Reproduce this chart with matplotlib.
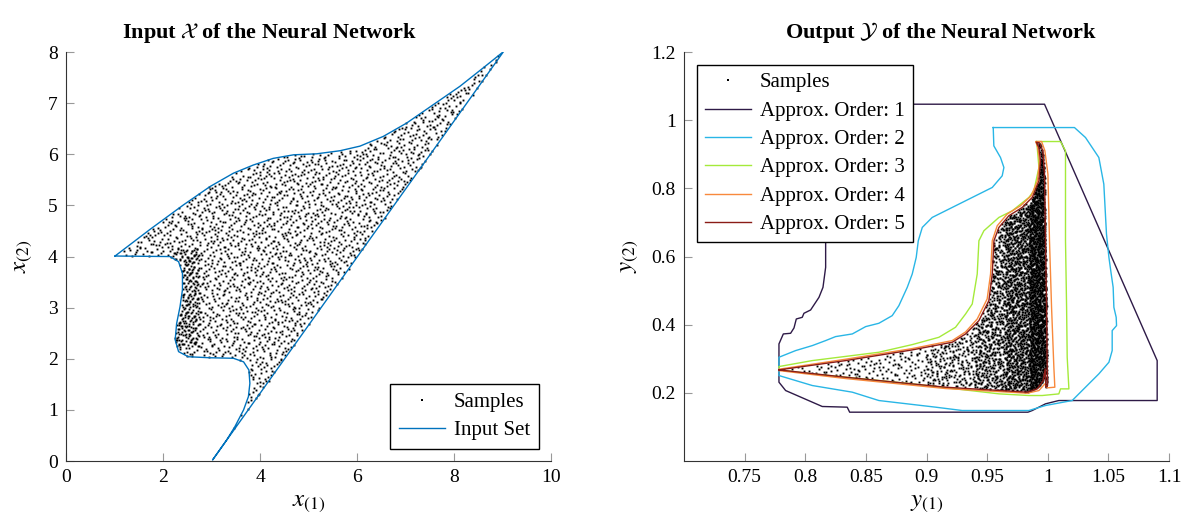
import numpy as np
import matplotlib
matplotlib.use("Agg")
import matplotlib.pyplot as plt
from matplotlib.path import Path

plt.rcParams['font.family'] = ['Liberation Serif', 'DejaVu Serif']
plt.rcParams['mathtext.fontset'] = 'stix'

# ---- input set boundary (x1, x2) ----
input_x1 = [1.01, 1.73, 2.42, 2.97, 3.45, 3.86, 4.27, 4.69, 5.17, 5.65, 6.06, 6.54, 7.02,
            7.57, 8.12, 8.60, 9.02,
            3.02, 3.14, 3.31, 3.48, 3.66, 3.76, 3.79, 3.77, 3.66, 3.45, 2.97, 2.52, 2.32,
            2.25, 2.28, 2.35, 2.40, 2.40, 2.32, 2.14, 1.01]
input_x2 = [4.01, 4.53, 5.01, 5.37, 5.63, 5.79, 5.92, 5.99, 6.01, 6.07, 6.16, 6.35, 6.61,
            6.97, 7.33, 7.69, 8.01,
            0.02, 0.18, 0.41, 0.67, 1.0, 1.26, 1.52, 1.78, 1.94, 2.01, 2.02, 2.04, 2.14,
            2.37, 2.69, 3.02, 3.35, 3.67, 3.90, 4.0, 4.01]
# slightly denser sample band along the left indentation
input_dense_x1 = [2.2, 2.75, 2.75, 2.2]
input_dense_x2 = [4.15, 4.15, 2.25, 2.25]
n_input, n_input_dense = 8200, 220

# ---- output approximations (y1, y2) ----
order1_y1 = [0.8443, 0.9973, 1.0902, 1.0902, 1.0091, 0.9981, 0.9872, 0.9836, 0.8366, 0.8346,
             0.814, 0.7838, 0.7783, 0.7783, 0.7819, 0.7879, 0.7907, 0.7926, 0.7975, 0.7989,
             0.8044, 0.8113, 0.8146, 0.8168, 0.8168, 0.8168, 0.825, 0.8443]
order1_y2 = [1.047, 1.047, 0.2947, 0.1775, 0.1775, 0.1678, 0.1482, 0.1433, 0.1433, 0.158,
             0.160, 0.2068, 0.2313, 0.3436, 0.3729, 0.3748, 0.3905, 0.4168, 0.4217, 0.4335,
             0.4432, 0.4803, 0.5096, 0.5683, 0.6269, 0.8418, 0.988, 1.047]

order2_y1 = [0.955, 1.022, 1.0311, 1.0421, 1.0462, 1.0484, 1.0504, 1.0523, 1.0539, 1.0545,
             1.0564, 1.0567, 1.0531, 1.0531, 1.0504, 1.0421, 1.0311, 1.0201, 0.9981, 0.9844,
             0.9294, 0.9075, 0.8607, 0.8388, 0.8058, 0.7783, 0.7783, 0.792, 0.8058, 0.8168,
             0.825, 0.8388, 0.8498, 0.8607, 0.8717, 0.8772, 0.8841, 0.8882, 0.8915, 0.8932,
             0.8965, 0.9047, 0.9212, 0.9377, 0.9542, 0.9624, 0.9638, 0.9610, 0.9555, 0.955]
order2_y2 = [0.9785, 0.9785, 0.9492, 0.8906, 0.8125, 0.6659, 0.5976, 0.5487, 0.5097, 0.4510,
             0.4217, 0.3973, 0.3827, 0.3241, 0.2899, 0.2557, 0.2166, 0.1775, 0.1629, 0.1482,
             0.1482, 0.158, 0.1775, 0.202, 0.2215, 0.2508, 0.3045, 0.324, 0.3387, 0.3534,
             0.3651, 0.3729, 0.3944, 0.4042, 0.4266, 0.4559, 0.5096, 0.5487, 0.5976, 0.6464,
             0.6855, 0.7148, 0.7441, 0.7734, 0.8027, 0.8369, 0.8613, 0.8906, 0.9248, 0.9785]

order3_y1 = [0.9907, 1.0105, 1.0146, 1.0146, 1.0155, 1.0160, 1.0174, 1.0105, 1.0091, 0.9954,
             0.9844, 0.9597, 0.8882, 0.8058, 0.7783, 0.7783, 0.8058, 0.8607, 0.8882, 0.9102,
             0.9239, 0.9322, 0.9377, 0.9418, 0.9432, 0.9473, 0.9597, 0.9707, 0.9844, 0.9885,
             0.9927, 0.9913, 0.9907]
order3_y2 = [0.9375, 0.9375, 0.9101, 0.6464, 0.4510, 0.3045, 0.2117, 0.2117, 0.197, 0.1922,
             0.1922, 0.1971, 0.2264, 0.2557, 0.2674, 0.2772, 0.2947, 0.3192, 0.3416, 0.3631,
             0.3924, 0.4315, 0.4608, 0.5487, 0.6464, 0.6757, 0.7148, 0.7343, 0.7734, 0.7929,
             0.8613, 0.9199, 0.9375]

order4_y1 = [0.7783, 0.8333, 0.8882, 0.9212, 0.9322, 0.9418, 0.95, 0.9528, 0.9542, 0.9583,
             0.9665, 0.9775, 0.9863, 0.9915, 0.9932, 0.9916, 0.99, 0.9949, 0.9976, 1.0001,
             1.0014, 1.0031, 1.005, 1.0058, 0.9995, 0.9976, 0.9927, 0.983, 0.9157, 0.8333,
             0.7783]
order4_y2 = [0.2694, 0.2987, 0.3299, 0.3534, 0.3788, 0.4168, 0.4755, 0.5487, 0.6464, 0.6904,
             0.7245, 0.749, 0.7783, 0.8222, 0.8808, 0.9218, 0.9375, 0.9375, 0.9101, 0.8418,
             0.6464, 0.451, 0.2752, 0.2166, 0.2147, 0.2264, 0.2068, 0.1990, 0.2127, 0.242,
             0.2654]

order5_y1 = [0.7783, 0.8333, 0.8882, 0.9212, 0.9322, 0.9432, 0.9514, 0.9542, 0.9556, 0.9597,
             0.9679, 0.9789, 0.9872, 0.9927, 0.9940, 0.9927, 0.9905, 0.9932, 0.9959, 0.9973,
             0.9981, 0.999, 0.9995, 0.9998, 0.9984, 0.9979, 0.9962, 0.9913, 0.983, 0.9157,
             0.8333, 0.7783]
order5_y2 = [0.2674, 0.2947, 0.326, 0.3485, 0.3729, 0.412, 0.4706, 0.5487, 0.6464, 0.6855,
             0.7197, 0.7441, 0.7734, 0.8222, 0.8808, 0.9199, 0.9355, 0.9336, 0.9101, 0.8418,
             0.6464, 0.451, 0.2752, 0.2215, 0.2166, 0.2703, 0.2361, 0.2117, 0.202, 0.2166,
             0.2459, 0.2674]
# samples crowd against the right edge of the output set (nested strips, x1 extent)
output_strip_left = [0.90, 0.94, 0.965, 0.985]
output_strip_n = [1500, 1500, 1300, 1300]
n_output = 3200

order_labels = ['Approx. Order: 1', 'Approx. Order: 2', 'Approx. Order: 3',
                'Approx. Order: 4', 'Approx. Order: 5']
order_colors = ['#2e1a47', '#29b6e6', '#a4ea3a', '#f8893c', '#8a1c17']


def halton(n, base):
    seq = np.zeros(n)
    for i in range(n):
        f, k, r = 1.0, i + 1, 0.0
        while k > 0:
            f /= base
            r += f * (k % base)
            k //= base
        seq[i] = r
    return seq


def fill_points(px, py, n, clip=None, offset=0, bases=(2, 3)):
    """Deterministic low-discrepancy points inside the polygon (px, py)."""
    poly = Path(np.column_stack([px, py]))
    u = halton(n + offset, bases[0])[offset:]
    v = halton(n + offset, bases[1])[offset:]
    pts = np.column_stack([min(px) + u * (max(px) - min(px)),
                           min(py) + v * (max(py) - min(py))])
    keep = poly.contains_points(pts)
    if clip is not None:
        keep &= Path(np.column_stack(clip)).contains_points(pts)
    return pts[keep]


fig = plt.figure(figsize=(11.9, 5.27), dpi=100)
ax1 = fig.add_axes([0.0555, 0.1252, 0.4076, 0.776])
ax2 = fig.add_axes([0.5748, 0.1252, 0.4076, 0.776])
dot = dict(linestyle='none', marker='s', markersize=1.35, markeredgewidth=0, color='black')

# left panel
s_in = np.vstack([fill_points(input_x1, input_x2, n_input),
                  fill_points(input_dense_x1, input_dense_x2, n_input_dense,
                              clip=(input_x1, input_x2), offset=5000, bases=(5, 7))])
ax1.plot(s_in[:, 0], s_in[:, 1], label='Samples', **dot)
ax1.plot(input_x1 + [input_x1[0]], input_x2 + [input_x2[0]], color='#0072bd', lw=1.0,
         label='Input Set')
ax1.set_xlim(0, 10)
ax1.set_ylim(0, 8)
ax1.set_xticks(range(0, 11, 2))
ax1.set_yticks(range(0, 9))
ax1.set_xlabel('$x_{(1)}$', fontsize=18, labelpad=4)
ax1.set_ylabel('$x_{(2)}$', fontsize=18, labelpad=10)
ax1.set_title(r'Input $\mathcal{X}$ of the Neural Network', fontsize=16, fontweight='bold',
              pad=10, x=0.42)
leg_kw = dict(fontsize=15, fancybox=False, edgecolor='black', framealpha=1,
              markerscale=1.3, handlelength=2.2, handletextpad=0.45, borderaxespad=0.6,
              labelspacing=0.42)
ax1.legend(loc='lower right', **leg_kw)

# right panel
out_parts = [fill_points(order5_y1, order5_y2, n_output)]
for k, (xl, n) in enumerate(zip(output_strip_left, output_strip_n)):
    strip_x = [xl, 1.0, 1.0, xl]
    strip_y = [0.2, 0.2, 0.94, 0.94]
    out_parts.append(fill_points(strip_x, strip_y, n, clip=(order5_y1, order5_y2),
                                 offset=2000 + 3000 * k, bases=[(5, 7), (3, 5), (7, 11), (2, 5)][k]))
s_out = np.vstack(out_parts)
ax2.plot(s_out[:, 0], s_out[:, 1], label='Samples', **dot)
orders = [(order1_y1, order1_y2), (order2_y1, order2_y2), (order3_y1, order3_y2),
          (order4_y1, order4_y2), (order5_y1, order5_y2)]
for (oy1, oy2), lab, col in zip(orders, order_labels, order_colors):
    ax2.plot(oy1, oy2, color=col, lw=1.0, label=lab)
ax2.set_xlim(0.7, 1.1)
ax2.set_ylim(0, 1.2)
ax2.set_xticks([0.75, 0.8, 0.85, 0.9, 0.95, 1.0, 1.05, 1.1])
ax2.set_xticklabels(['0.75', '0.8', '0.85', '0.9', '0.95', '1', '1.05', '1.1'])
ax2.set_yticks([0.2, 0.4, 0.6, 0.8, 1.0, 1.2])
ax2.set_yticklabels(['0.2', '0.4', '0.6', '0.8', '1', '1.2'])
ax2.set_xlabel('$y_{(1)}$', fontsize=18, labelpad=4)
ax2.set_ylabel('$y_{(2)}$', fontsize=18, labelpad=8)
ax2.set_title(r'Output $\mathcal{Y}$ of the Neural Network', fontsize=16, fontweight='bold',
              pad=10, x=0.53)
ax2.legend(loc='upper left', **leg_kw)

for ax in (ax1, ax2):
    for side in ('top', 'right'):
        ax.spines[side].set_visible(False)
    ax.spines['left'].set_color('#333333')
    ax.spines['bottom'].set_color('#333333')
    ax.tick_params(direction='in', length=6, color='#999999', labelsize=14, pad=6)

fig.savefig('out.png', dpi=100)
